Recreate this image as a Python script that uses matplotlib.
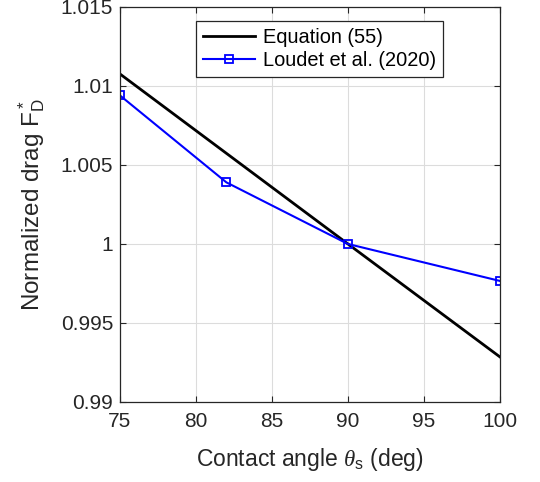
import matplotlib
matplotlib.use("Agg")
import matplotlib.pyplot as plt

# data
eq_angle = [75, 90, 100]
eq_drag = [1.01076, 1.0, 0.99285]

loudet_angle = [75, 82, 90, 100]
loudet_drag = [1.0094, 1.0039, 1.0, 0.99766]

xticks = [75, 80, 85, 90, 95, 100]
yticks = [0.99, 0.995, 1.0, 1.005, 1.01, 1.015]
ytick_labels = ["0.99", "0.995", "1", "1.005", "1.01", "1.015"]

plt.rcParams["font.family"] = ["Liberation Sans", "DejaVu Sans"]
plt.rcParams["mathtext.fontset"] = "custom"
plt.rcParams["mathtext.it"] = "Liberation Serif:italic"
plt.rcParams["mathtext.rm"] = "Liberation Sans"

fig = plt.figure(figsize=(5.4, 4.82), dpi=100)
ax = fig.add_axes([0.2222, 0.166, 0.7037, 0.8195])

ax.plot(eq_angle, eq_drag, color="black", lw=2, label="Equation (55)")
ax.plot(loudet_angle, loudet_drag, color="blue", lw=1.5, marker="s",
        markersize=6, markerfacecolor="none", markeredgewidth=1.3,
        label="Loudet et al. (2020)")

ax.set_xlim(75, 100)
ax.set_ylim(0.99, 1.015)
ax.set_xticks(xticks)
ax.set_yticks(yticks)
ax.set_yticklabels(ytick_labels)
ax.grid(True, color="#dcdcdc", lw=0.8)
ax.set_axisbelow(True)

ax.tick_params(direction="in", length=4, labelsize=15, colors="#262626",
               top=True, right=True)
ax.tick_params(axis="x", pad=7)
ax.tick_params(axis="y", pad=5)
for s in ax.spines.values():
    s.set_color("#262626")
    s.set_linewidth(0.9)

ax.set_xlabel(r"Contact angle $\theta_{\rm s}$ (deg)", fontsize=16.5,
              color="#262626", labelpad=11)
ax.set_ylabel(r"Normalized drag $\mathrm{F}^*_\mathrm{D}$", fontsize=17.5,
              color="#262626", labelpad=9)

leg = ax.legend(loc="upper center", bbox_to_anchor=(0.526, 0.98), fontsize=14.4,
                fancybox=False, framealpha=1, edgecolor="#262626",
                handlelength=2.6, borderpad=0.35, labelspacing=0.2,
                handletextpad=0.4, borderaxespad=0.3)
leg.get_frame().set_linewidth(0.9)

fig.savefig("out.png", dpi=100)
